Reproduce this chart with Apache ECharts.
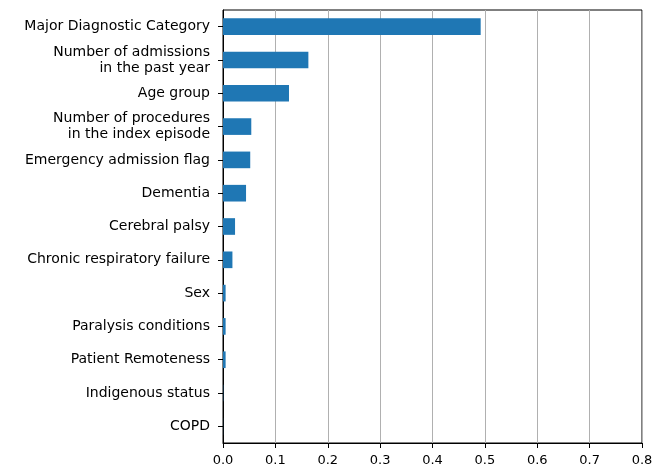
<!DOCTYPE html>
<html>
<head>
<meta charset="utf-8">
<script src="https://cdn.jsdelivr.net/npm/echarts@6/dist/echarts.min.js"></script>
<style>html,body{margin:0;padding:0;background:#fff;}#c{width:668px;height:471px;}</style>
</head>
<body>
<div id="c"></div>
<script>
const categories = [
  "Major Diagnostic Category",
  "Number of admissions\nin the past year",
  "Age group",
  "Number of procedures\nin the index episode",
  "Emergency admission flag",
  "Dementia",
  "Cerebral palsy",
  "Chronic respiratory failure",
  "Sex",
  "Paralysis conditions",
  "Patient Remoteness",
  "Indigenous status",
  "COPD"
];
const importance = [0.492, 0.163, 0.126, 0.054, 0.052, 0.044, 0.023, 0.018, 0.005, 0.005, 0.005, 0.0005, 0.0002];
const xTicks = { min: 0, max: 0.8, interval: 0.1 };

const chart = echarts.init(document.getElementById('c'), null, { renderer: 'canvas' });
const font = 'DejaVu Sans';
chart.setOption({
  animation: false,
  backgroundColor: '#fff',
  grid: { left: 223, right: 26, top: 10, bottom: 28, show: true, borderColor: '#000', borderWidth: 1, backgroundColor: 'transparent' },
  xAxis: {
    type: 'value', min: xTicks.min, max: xTicks.max, interval: xTicks.interval,
    axisLine: { show: true, lineStyle: { color: '#000', width: 1 } },
    axisTick: { show: true, length: 5, lineStyle: { color: '#000' } },
    axisLabel: { color: '#000', fontFamily: font, fontSize: 13, margin: 11, formatter: v => v.toFixed(1) },
    splitLine: { show: true, lineStyle: { color: '#b0b0b0', width: 1 } }
  },
  yAxis: {
    type: 'category', data: categories, inverse: true,
    axisLine: { show: true, lineStyle: { color: '#000', width: 1 } },
    axisTick: { show: true, length: 5, alignWithLabel: true, lineStyle: { color: '#000' } },
    axisLabel: { color: '#000', fontFamily: font, fontSize: 14, margin: 13, lineHeight: 16, align: 'right' },
    splitLine: { show: false }
  },
  series: [{
    type: 'bar', data: importance, barCategoryGap: '50%',
    itemStyle: { color: '#1f77b4' }
  }]
});
</script>
</body>
</html>
